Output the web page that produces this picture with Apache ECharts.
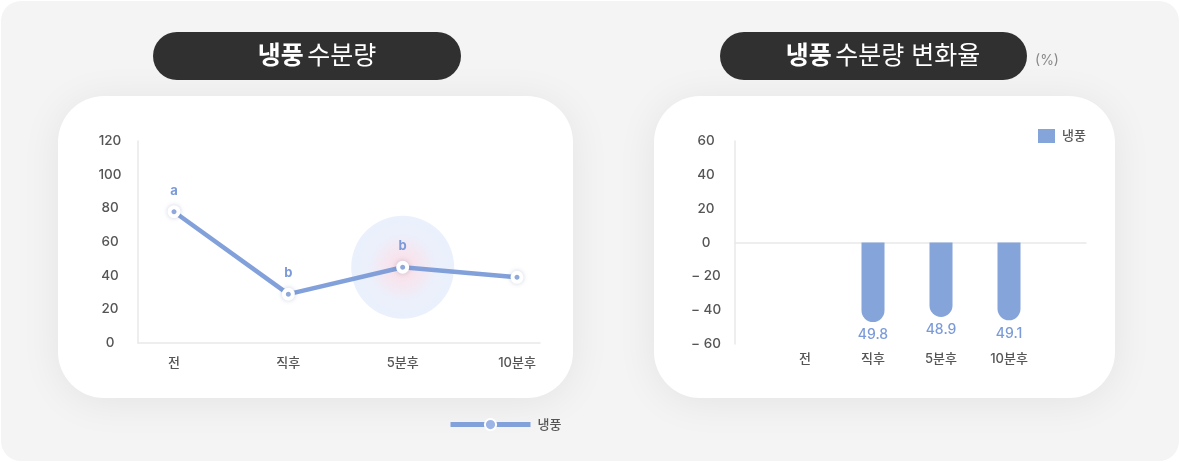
<!DOCTYPE html>
<html>
<head>
<meta charset="utf-8">
<script src="https://cdn.jsdelivr.net/npm/echarts@6/dist/echarts.min.js"></script>
<style>
html,body{margin:0;padding:0;background:#ffffff;}
#c{width:1180px;height:462px;}
</style>
</head>
<body>
<div id="c"></div>
<script>
// ---- data ----
var categories = ['전', '직후', '5분후', '10분후'];
var waterValues = [78, 29, 45, 39];
var waterLetters = ['a', 'b', 'b', ''];
var highlightIndex = 2;
var changeValues = [null, -47, -44, -46];
var changeLabels = ['', '49.8', '48.9', '49.1'];
var leftTicks = { min: 0, max: 120, interval: 20 };
var rightTicks = { min: -60, max: 60, interval: 20 };
var seriesName = '냉풍';
var leftTitleBold = '냉풍';
var leftTitleRest = '수분량';
var rightTitleBold = '냉풍';
var rightTitleRest = '수분량 변화율';
var unitText = '(%)';

var FONT = "Inter, 'Noto Sans CJK KR', sans-serif";
var LINE_COLOR = '#7b9bd8';
var BAR_COLOR = '#84a4da';
var AXIS_TEXT = '#555555';
var AXIS_LINE = '#e9e9e9';

var chart = echarts.init(document.getElementById('c'), null, { renderer: 'canvas' });

var glowData = categories.map(function (c, i) { return i === highlightIndex ? waterValues[i] : null; });

var titleRich = {
  b: { fontSize: 25, fontWeight: 'bold', fill: '#ffffff', fontFamily: FONT },
  r: { fontSize: 25, fontWeight: 'normal', fill: '#ffffff', fontFamily: FONT }
};

var option = {
  animation: false,
  textStyle: { fontFamily: FONT },
  graphic: [
    { type: 'rect', z: -20, shape: { x: 1, y: 1, width: 1178, height: 460, r: 20 }, style: { fill: '#f4f4f4' } },
    { type: 'rect', z: -10, shape: { x: 58, y: 96, width: 515, height: 302, r: 46 },
      style: { fill: '#ffffff', shadowBlur: 40, shadowColor: 'rgba(0,0,0,0.07)', shadowOffsetY: 4 } },
    { type: 'rect', z: -10, shape: { x: 654, y: 96, width: 461, height: 302, r: 46 },
      style: { fill: '#ffffff', shadowBlur: 40, shadowColor: 'rgba(0,0,0,0.07)', shadowOffsetY: 4 } },
    { type: 'rect', z: -5, shape: { x: 153, y: 32, width: 308, height: 48, r: 24 }, style: { fill: '#303030' } },
    { type: 'rect', z: -5, shape: { x: 720, y: 32, width: 307, height: 48, r: 24 }, style: { fill: '#303030' } },
    { type: 'text', z: -4, x: 317, y: 56,
      style: { text: '{b|' + leftTitleBold + '} {r|' + leftTitleRest + '}', align: 'center', verticalAlign: 'middle', rich: titleRich } },
    { type: 'text', z: -4, x: 883, y: 56,
      style: { text: '{b|' + rightTitleBold + '} {r|' + rightTitleRest + '}', align: 'center', verticalAlign: 'middle', rich: titleRich } },
    { type: 'text', z: -4, x: 1047, y: 61,
      style: { text: unitText, align: 'center', verticalAlign: 'middle', fontSize: 14, fill: '#888888', fontFamily: FONT } }
  ],
  legend: [
    { left: 448, top: 418, padding: 0, itemWidth: 80, itemHeight: 14, data: [seriesName],
      lineStyle: { width: 5, color: LINE_COLOR },
      textStyle: { color: AXIS_TEXT, fontSize: 13, fontWeight: 500, padding: [0, 0, 0, 2], fontFamily: FONT } },
    { left: 1038, top: 129, padding: 0, itemWidth: 17, itemHeight: 14, data: [{ name: 'bar_' + seriesName, icon: 'rect' }],
      formatter: function () { return seriesName; },
      textStyle: { color: AXIS_TEXT, fontSize: 13, fontWeight: 500, padding: [0, 0, 0, 2], fontFamily: FONT } }
  ],
  grid: [
    { left: 138, right: 640, top: 141, bottom: 119 },
    { left: 174, right: 1180 - 517, top: 141, bottom: 119 },
    { left: 735, right: 94, top: 141, bottom: 118 },
    { left: 771, width: 272, top: 141, bottom: 118 }
  ],
  xAxis: [
    { gridIndex: 0, type: 'category', data: categories, show: true,
      axisLine: { lineStyle: { color: AXIS_LINE, width: 1.5 } }, axisTick: { show: false }, axisLabel: { show: false } },
    { gridIndex: 1, type: 'category', data: categories, boundaryGap: false,
      axisLine: { show: false }, axisTick: { show: false },
      axisLabel: { color: AXIS_TEXT, fontSize: 13, fontWeight: 500, margin: 14, fontFamily: FONT } },
    { gridIndex: 2, type: 'category', data: categories,
      axisLine: { onZero: true, lineStyle: { color: AXIS_LINE, width: 1.5 } }, axisTick: { show: false }, axisLabel: { show: false } },
    { gridIndex: 3, type: 'category', data: categories,
      axisLine: { show: false, onZero: false }, axisTick: { show: false },
      axisLabel: { color: AXIS_TEXT, fontSize: 13, fontWeight: 500, margin: 9, fontFamily: FONT } }
  ],
  yAxis: [
    { gridIndex: 0, type: 'value', min: leftTicks.min, max: leftTicks.max, interval: leftTicks.interval,
      axisLine: { show: true, lineStyle: { color: AXIS_LINE, width: 1.5 } }, axisTick: { show: false }, splitLine: { show: false },
      axisLabel: { color: AXIS_TEXT, fontSize: 13.5, fontWeight: 500, margin: 28, align: 'center', fontFamily: FONT } },
    { gridIndex: 1, type: 'value', min: leftTicks.min, max: leftTicks.max, interval: leftTicks.interval, show: false },
    { gridIndex: 2, type: 'value', min: rightTicks.min, max: rightTicks.max, interval: rightTicks.interval,
      axisLine: { show: true, lineStyle: { color: AXIS_LINE, width: 1.5 } }, axisTick: { show: false }, splitLine: { show: false },
      axisLabel: { color: AXIS_TEXT, fontSize: 13.5, fontWeight: 500, margin: 29, align: 'center', fontFamily: FONT,
        formatter: function (v) { return v < 0 ? '\u2212 ' + Math.abs(v) : String(v); } } },
    { gridIndex: 3, type: 'value', min: rightTicks.min, max: rightTicks.max, interval: rightTicks.interval, show: false }
  ],
  series: [
    { type: 'scatter', name: 'glow', xAxisIndex: 1, yAxisIndex: 1, data: glowData, symbolSize: 103, silent: true, z: 1,
      itemStyle: { color: { type: 'radial', x: 0.5, y: 0.5, r: 0.5,
        colorStops: [ { offset: 0, color: 'rgba(249,208,216,0.95)' }, { offset: 0.3, color: 'rgba(243,220,233,0.9)' },
                      { offset: 0.65, color: 'rgba(229,235,250,0.95)' }, { offset: 1, color: 'rgba(228,236,251,0.95)' } ] } } },
    { type: 'line', name: seriesName, xAxisIndex: 1, yAxisIndex: 1, data: waterValues, z: 3,
      lineStyle: { color: LINE_COLOR, width: 4.5, opacity: 0.95 },
      symbol: 'circle', symbolSize: 9,
      itemStyle: { color: '#9cb5e6', borderColor: '#ffffff', borderWidth: 4, shadowBlur: 5, shadowColor: 'rgba(60,80,140,0.2)' },
      label: { show: true, position: 'top', distance: 8, color: '#7c9ad8', fontSize: 13, fontWeight: 'bold', fontFamily: FONT,
        formatter: function (p) { return waterLetters[p.dataIndex]; } } },
    { type: 'bar', name: 'bar_' + seriesName, xAxisIndex: 3, yAxisIndex: 3, data: changeValues, barWidth: 23,
      itemStyle: { color: BAR_COLOR, borderRadius: [0, 0, 12, 12] },
      label: { show: true, position: 'bottom', distance: 6, color: '#7b9bd8', fontSize: 14, fontWeight: 500, fontFamily: FONT,
        formatter: function (p) { return changeLabels[p.dataIndex]; } } }
  ]
};
chart.setOption(option);
</script>
</body>
</html>
